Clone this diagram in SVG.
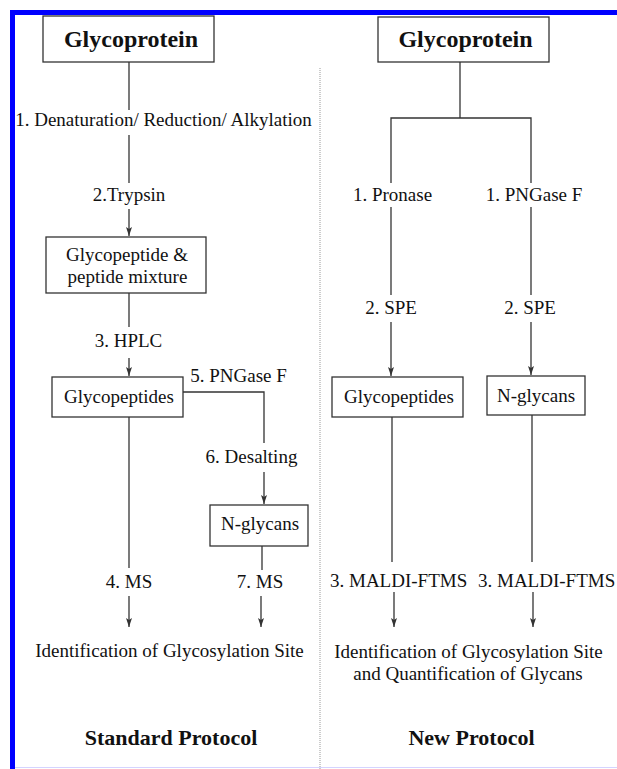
<svg xmlns="http://www.w3.org/2000/svg" width="617" height="769" viewBox="0 0 617 769">
<style>
text{font-family:"Liberation Serif","Times New Roman",serif;font-size:19px;fill:#111}
.t{font-weight:bold;font-size:24px}
.h{font-weight:bold;font-size:22px}
.c{text-anchor:middle}
.box{fill:#fff;stroke:#333;stroke-width:1.3}
.ln{fill:none;stroke:#333;stroke-width:1.3}
.ar{fill:none;stroke:#333;stroke-width:1.3;marker-end:url(#ah)}
</style>
<defs>
<marker id="ah" markerUnits="userSpaceOnUse" viewBox="-10 -4 11 8" refX="0" refY="0" markerWidth="11" markerHeight="8" orient="auto">
<path d="M0,0 L-9,-3 L-7,0 L-9,3 Z" fill="#333"/>
</marker>
</defs>
<rect x="0" y="0" width="617" height="769" fill="#fff"/>
<rect x="10" y="10" width="607" height="5" fill="#0000ff"/>
<rect x="10" y="10" width="5" height="759" fill="#0000ff"/>
<line x1="15" y1="767.5" x2="617" y2="767.5" stroke="#d4d4ff" stroke-width="1"/>
<line x1="320" y1="68" x2="320" y2="769" stroke="#999" stroke-width="1" stroke-dasharray="1 1"/>

<g id="connectors">
<line class="ln" x1="129" y1="62" x2="129" y2="110"/>
<line class="ln" x1="129" y1="135" x2="129" y2="183"/>
<line class="ar" x1="129" y1="209" x2="129" y2="236"/>
<line class="ln" x1="129" y1="293" x2="129" y2="327"/>
<line class="ar" x1="129" y1="358" x2="129" y2="376"/>
<polyline class="ln" points="183,392 264,392 264,443"/>
<line class="ar" x1="264" y1="472" x2="264" y2="504"/>
<line class="ln" x1="262" y1="546" x2="262" y2="570"/>
<line class="ar" x1="261" y1="596" x2="261" y2="627"/>
<line class="ln" x1="129" y1="417" x2="129" y2="568"/>
<line class="ar" x1="129" y1="596" x2="129" y2="627"/>

<line class="ln" x1="460" y1="62" x2="460" y2="118"/>
<polyline class="ln" points="391,183 391,118 531,118 531,183"/>
<line class="ln" x1="391" y1="207" x2="391" y2="295"/>
<line class="ln" x1="531" y1="207" x2="531" y2="295"/>
<line class="ar" x1="391" y1="322" x2="391" y2="376"/>
<line class="ar" x1="531" y1="322" x2="531" y2="375"/>
<line class="ln" x1="392" y1="417" x2="392" y2="562"/>
<line class="ln" x1="532" y1="415" x2="532" y2="562"/>
<line class="ar" x1="394" y1="592" x2="394" y2="627"/>
<line class="ar" x1="533" y1="592" x2="533" y2="627"/>
</g>

<g id="left-glycoprotein">
<rect class="box" x="43" y="16" width="171" height="46"/>
<text class="t c" x="131" y="47">Glycoprotein</text>
</g>
<g id="label-denat"><text class="c" x="163.5" y="126">1. Denaturation/ Reduction/ Alkylation</text></g>
<g id="label-trypsin"><text class="c" x="129" y="201">2.Trypsin</text></g>
<g id="mixture">
<rect class="box" x="46" y="237" width="160" height="56"/>
<text class="c" x="127" y="261">Glycopeptide &amp;</text>
<text class="c" x="127.5" y="283">peptide mixture</text>
</g>
<g id="label-hplc"><text class="c" x="128.5" y="347">3. HPLC</text></g>
<g id="left-glycopeptides">
<rect class="box" x="52" y="377" width="131" height="40"/>
<text class="c" x="119" y="403">Glycopeptides</text>
</g>
<g id="label-pngase-left"><text class="c" x="238.5" y="382">5. PNGase F</text></g>
<g id="label-desalting"><text class="c" x="251.5" y="463">6. Desalting</text></g>
<g id="left-nglycans">
<rect class="box" x="210" y="505" width="98" height="41"/>
<text class="c" x="260" y="530">N-glycans</text>
</g>
<g id="label-ms4"><text class="c" x="129" y="588">4. MS</text></g>
<g id="label-ms7"><text class="c" x="260" y="588">7. MS</text></g>
<g id="left-result"><text class="c" x="169.5" y="657">Identification of Glycosylation Site</text></g>
<g id="left-title"><text class="h c" x="171" y="745">Standard Protocol</text></g>

<g id="right-glycoprotein">
<rect class="box" x="378" y="17" width="171" height="45"/>
<text class="t c" x="465.5" y="47">Glycoprotein</text>
</g>
<g id="label-pronase"><text class="c" x="392.5" y="201">1. Pronase</text></g>
<g id="label-pngase-right"><text class="c" x="534" y="201">1. PNGase F</text></g>
<g id="label-spe1"><text class="c" x="391" y="314">2. SPE</text></g>
<g id="label-spe2"><text class="c" x="530" y="314">2. SPE</text></g>
<g id="right-glycopeptides">
<rect class="box" x="332" y="377" width="131" height="40"/>
<text class="c" x="399" y="403">Glycopeptides</text>
</g>
<g id="right-nglycans">
<rect class="box" x="487" y="376" width="98" height="39"/>
<text class="c" x="536" y="402">N-glycans</text>
</g>
<g id="label-maldi1"><text x="330" y="587">3. MALDI-FTMS</text></g>
<g id="label-maldi2"><text x="478" y="587">3. MALDI-FTMS</text></g>
<g id="right-result">
<text class="c" x="468.5" y="658">Identification of Glycosylation Site</text>
<text class="c" x="468" y="680">and Quantification of Glycans</text>
</g>
<g id="right-title"><text class="h c" x="471.5" y="745">New Protocol</text></g>
</svg>
